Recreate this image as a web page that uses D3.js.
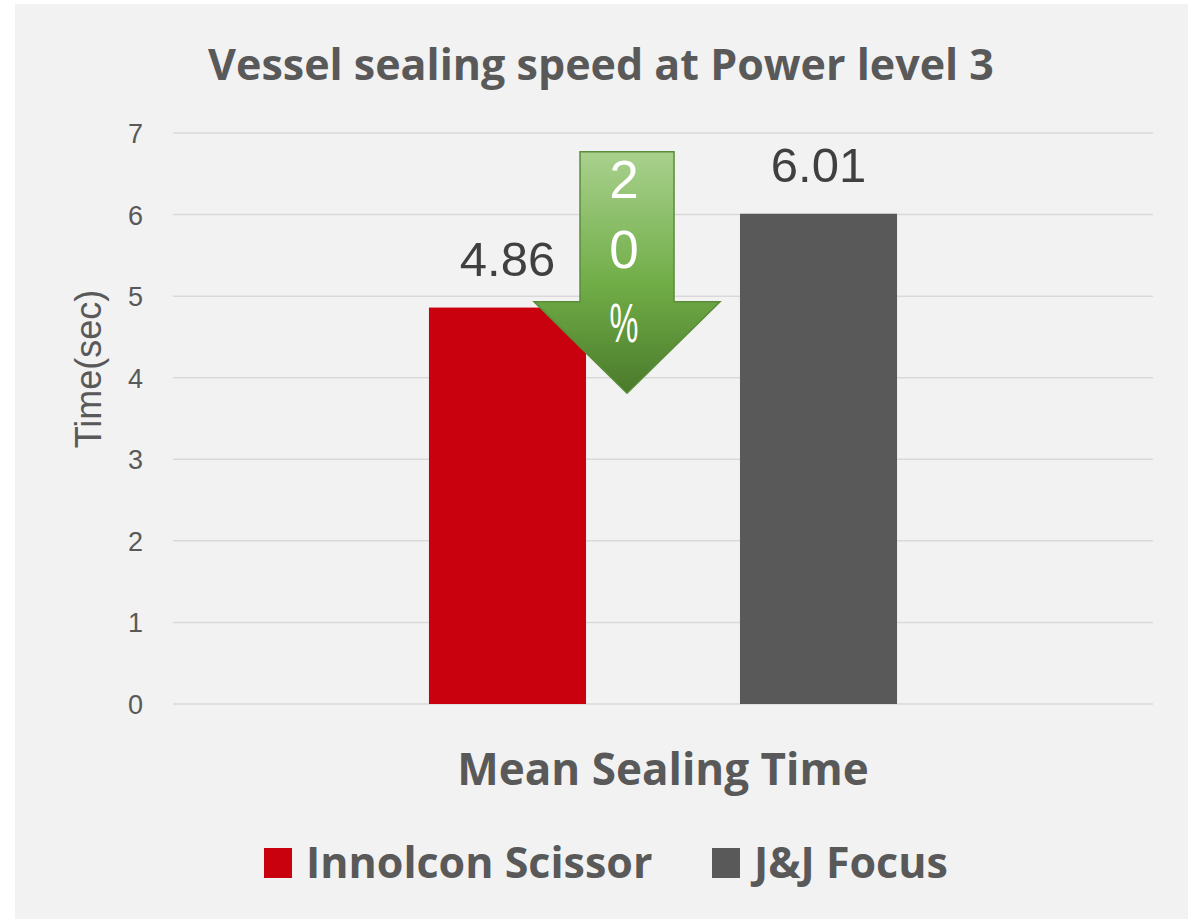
<!DOCTYPE html>
<html lang="en">
<head>
    <meta charset="UTF-8">
    <title>Vessel sealing speed at Power level 3</title>
    <script src="https://d3js.org/d3.v7.min.js"></script>
    <style>
        body { margin: 0; background: #ffffff; }
        svg { display: block; }
        .tick-label { font-family: "Liberation Sans", Arial, sans-serif; font-size: 27px; fill: #595959; }
        .titulo { font-family: "Open Sans", sans-serif; font-weight: bold; fill: #595959; }
        .eje { font-family: "Liberation Sans", Arial, sans-serif; fill: #595959; }
        .valor { font-family: "Liberation Sans", Arial, sans-serif; font-size: 49px; fill: #404040; }
    </style>
</head>
<body>
<svg width="1188" height="919"></svg>
<script>
    // datos del grafico
    const categorias = ["Mean Sealing Time"];
    const series = ["Innolcon Scissor", "J&J Focus"];
    const valores = [4.86, 6.01];
    const colores = ["#c9000d", "#595959"];
    const ticksY = [0, 1, 2, 3, 4, 5, 6, 7];
    const flechaTexto = ["2", "0", "%"];

    const svg = d3.select("svg");
    const width = 1188, height = 919;
    const margen = { top: 133, right: 35, bottom: 215, left: 173 };

    // fondo gris
    svg.append("rect")
        .attr("x", 15).attr("y", 4)
        .attr("width", width - 15).attr("height", height - 4)
        .attr("fill", "#f2f2f2");

    const y = d3.scaleLinear()
        .domain([0, 7])
        .range([height - margen.bottom, margen.top]);

    const x0 = d3.scaleBand()
        .domain(categorias)
        .range([margen.left, width - margen.right]);

    const x1 = d3.scaleBand()
        .domain(series)
        .range([0, x0.bandwidth()])
        .paddingInner(0.495)
        .paddingOuter(0.823);

    // lineas de grilla
    svg.append("g")
        .selectAll("line")
        .data(ticksY)
        .join("line")
        .attr("x1", margen.left)
        .attr("x2", width - margen.right)
        .attr("y1", d => y(d))
        .attr("y2", d => y(d))
        .attr("stroke", "#d9d9d9")
        .attr("stroke-width", 1.5);

    svg.append("g")
        .selectAll("text")
        .data(ticksY)
        .join("text")
        .attr("class", "tick-label")
        .attr("x", 143)
        .attr("y", d => y(d) + 10)
        .attr("text-anchor", "end")
        .text(d => d);

    // barras
    const grupo = svg.append("g")
        .attr("transform", `translate(${x0(categorias[0])},0)`);

    grupo.selectAll("rect")
        .data(valores)
        .join("rect")
        .attr("x", (d, i) => x1(series[i]))
        .attr("y", d => y(d))
        .attr("width", x1.bandwidth())
        .attr("height", d => y(0) - y(d))
        .attr("fill", (d, i) => colores[i]);

    grupo.selectAll("text.valor")
        .data(valores)
        .join("text")
        .attr("class", "valor")
        .attr("x", (d, i) => x1(series[i]) + x1.bandwidth() / 2)
        .attr("y", d => y(d) - 32)
        .attr("text-anchor", "middle")
        .text(d => d.toFixed(2));

    // flecha verde de reduccion
    const defs = svg.append("defs");
    const grad = defs.append("linearGradient")
        .attr("id", "verde")
        .attr("x1", 0).attr("y1", 0).attr("x2", 0).attr("y2", 1);
    grad.append("stop").attr("offset", "0%").attr("stop-color", "#a9d18e");
    grad.append("stop").attr("offset", "55%").attr("stop-color", "#70ad47");
    grad.append("stop").attr("offset", "100%").attr("stop-color", "#4a7a2b");

    const cx = x0(categorias[0]) + x1(series[0]) + x1.bandwidth() + 41;
    const yTop = y(6.77), yCuello = y(4.93), yPunta = y(3.81);
    const flecha = [
        [cx - 47, yTop], [cx + 47, yTop], [cx + 47, yCuello], [cx + 93, yCuello],
        [cx, yPunta], [cx - 93, yCuello], [cx - 47, yCuello]
    ];
    svg.append("path")
        .attr("d", d3.line()(flecha) + "Z")
        .attr("fill", "url(#verde)")
        .attr("stroke", "#5b8c3a")
        .attr("stroke-width", 1.5);

    const posTexto = [198, 268, 342];
    const tx = cx - 3;
    svg.append("g")
        .selectAll("text")
        .data(flechaTexto)
        .join("text")
        .attr("x", tx)
        .attr("y", (d, i) => posTexto[i])
        .attr("text-anchor", "middle")
        .attr("font-family", "'Liberation Sans', Arial, sans-serif")
        .attr("font-size", (d, i) => i == 2 ? 56 : 53)
        .attr("transform", (d, i) => i == 2 ? `translate(${tx},${posTexto[i]}) scale(0.58,1) translate(${-tx},${-posTexto[i]})` : null)
        .attr("fill", "#ffffff")
        .text(d => d);

    // titulos
    svg.append("text")
        .attr("class", "titulo")
        .attr("x", 601).attr("y", 80)
        .attr("text-anchor", "middle")
        .attr("font-size", 43)
        .text("Vessel sealing speed at Power level 3");

    svg.append("text")
        .attr("class", "eje")
        .attr("transform", `translate(101, 369) rotate(-90)`)
        .attr("text-anchor", "middle")
        .attr("font-size", 36)
        .text("Time(sec)");

    svg.append("text")
        .attr("class", "titulo")
        .attr("x", x0(categorias[0]) + x0.bandwidth() / 2)
        .attr("y", 785)
        .attr("text-anchor", "middle")
        .attr("font-size", 44)
        .text(categorias[0]);

    // leyenda
    const posLeyenda = [264, 712];
    const leyenda = svg.append("g")
        .selectAll("g")
        .data(series)
        .join("g")
        .attr("transform", (d, i) => `translate(${posLeyenda[i]}, 848)`);

    leyenda.append("rect")
        .attr("width", 28).attr("height", 30)
        .attr("fill", (d, i) => colores[i]);

    leyenda.append("text")
        .attr("class", "titulo")
        .attr("x", 42).attr("y", 30)
        .attr("font-size", 43)
        .text(d => d);
</script>
</body>
</html>
